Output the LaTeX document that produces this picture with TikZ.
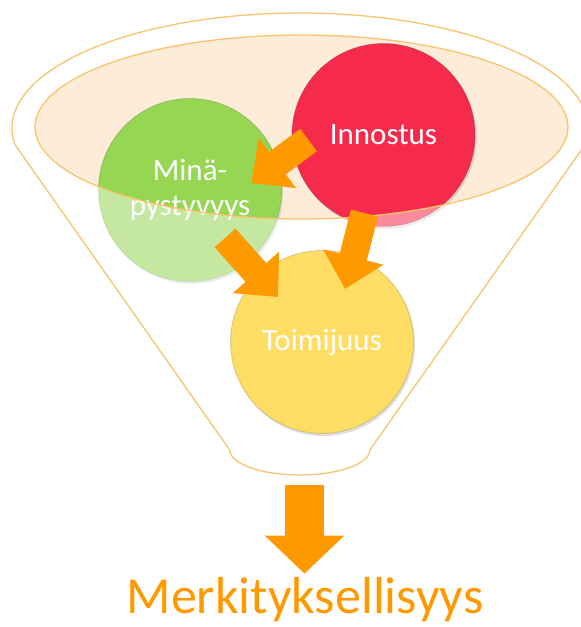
\documentclass[tikz,border=0pt]{standalone}
\usepackage{fontspec}
\setmainfont{Carlito}
\usetikzlibrary{arrows.meta,shadows}

\definecolor{innored}{RGB}{246,42,75}
\definecolor{minagreen}{RGB}{150,214,82}
\definecolor{toimiyellow}{RGB}{254,221,100}
\definecolor{floworange}{RGB}{255,153,0}
\definecolor{rimline}{RGB}{250,195,110}
\definecolor{rimfill}{RGB}{253,236,216}

\tikzset{
  bubble/.style={circle, minimum size=183pt, inner sep=0pt, text=white, align=center,
    font=\fontsize{31}{35}\selectfont, line width=0.8pt, draw opacity=0.35,
    drop shadow={opacity=0.25, shadow xshift=1.5pt, shadow yshift=-2.5pt}},
  flow/.style={draw=floworange, line width=28pt, -{Triangle[length=33pt,width=60pt]}},
  bigflow/.style={draw=floworange, line width=39pt, -{Triangle[length=38pt,width=77pt]}},
  rim/.style={draw=rimline, line width=1.3pt}
}

\newcommand{\funnelpath}{(15.2,145) arc[start angle=188.5, end angle=-8.5, x radius=288pt, y radius=115pt]
  -- (369.8,450) arc[start angle=0, end angle=-180, x radius=70pt, y radius=25pt] -- cycle}
\newcommand{\mouthpath}{(301.5,127) ellipse[x radius=266.5pt, y radius=92pt]}

\begin{document}
\begin{tikzpicture}[x=1pt, y=-1pt]
    \useasboundingbox (0,0) rectangle (581,627);
    % opening of the funnel
    \fill[rimfill] \mouthpath;

    \node (mina) [bubble, fill=minagreen, draw=minagreen!60!black] at (190,190) {Minä-\\pystyvyys};
    \node (innostus) [bubble, fill=innored, draw=innored!60!black] at (383.5,135) {Innostus};

    % wall of the funnel fades what lies behind it
    \fill[white, fill opacity=0.45, even odd rule] \funnelpath \mouthpath;

    \node (toimi) [bubble, fill=toimiyellow, draw=toimiyellow!60!black] at (322,342) {Toimijuus};

    \draw[rim] \funnelpath;
    \draw[rim] \mouthpath;

    \draw[flow] ([shift={(-75,5)}]innostus.center) -- ([shift={(61,-7)}]mina.center);
    \draw[flow] ([shift={(35,48)}]mina.center) -- ([shift={(-44,-45)}]toimi.center);
    \draw[flow] ([shift={(-19,78)}]innostus.center) -- ([shift={(23,-53)}]toimi.center);

    \coordinate (spout) at (304.5,485);
    \node (merk) [text=floworange, font=\fontsize{52}{60}\selectfont, anchor=base, inner sep=0pt] at (305,613) {Merkityksellisyys};
    \draw[bigflow] (spout) -- ([yshift=3pt]spout |- merk.north);
\end{tikzpicture}
\end{document}
